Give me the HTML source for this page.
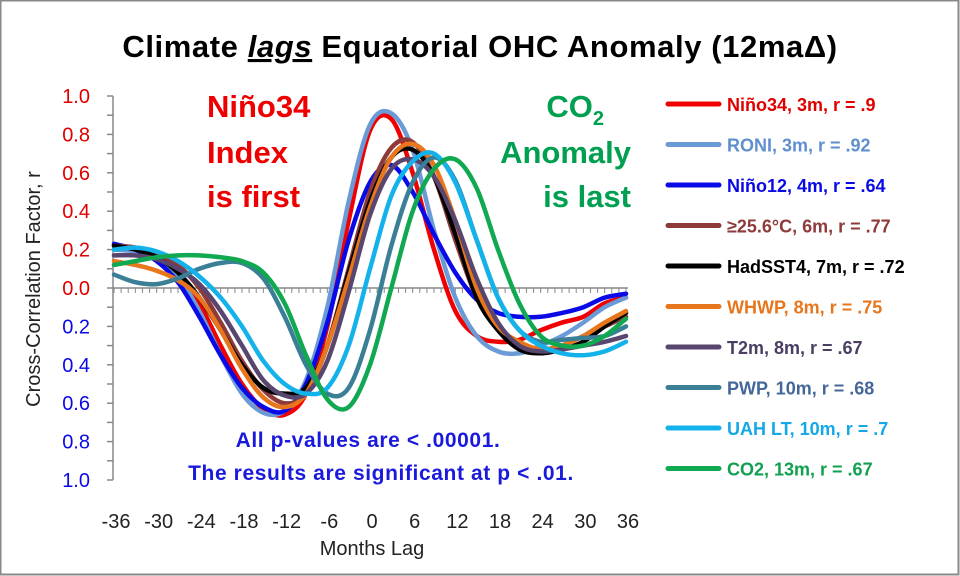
<!DOCTYPE html>
<html><head><meta charset="utf-8"><style>
body{margin:0;background:#fff}
#c{position:relative;width:960px;height:576px;overflow:hidden;font-family:"Liberation Sans",sans-serif}
svg text{font-family:"Liberation Sans",sans-serif}
</style></head><body>
<div id="c">
<svg id="s" width="960" height="576" viewBox="0 0 960 576">
<rect x="0.5" y="0.5" width="958" height="574" fill="#fff" stroke="#888" stroke-width="2"/>
<text x="480" y="57" text-anchor="middle" font-size="31" font-weight="bold" letter-spacing="0.6" fill="#000">Climate <tspan font-style="italic" text-decoration="underline">lags</tspan> Equatorial OHC Anomaly (12maΔ)</text>
<text transform="translate(40,289) rotate(-90)" text-anchor="middle" font-size="20" fill="#222">Cross-Correlation Factor, r</text>
<text x="372" y="555" text-anchor="middle" font-size="20" fill="#222">Months Lag</text>
<g font-size="31" font-weight="bold" fill="#e00">
<text x="207" y="117">Niño34</text><text x="207" y="163">Index</text><text x="207" y="207">is first</text></g>
<g font-size="31" font-weight="bold" fill="#00a050" text-anchor="end">
<text x="604" y="117">CO<tspan font-size="20" dy="8">2</tspan></text><text x="631" y="163">Anomaly</text><text x="631" y="207">is last</text></g>
<g font-size="21" font-weight="bold" fill="#1a1adc" text-anchor="middle" letter-spacing="0.6">
<text x="368" y="447">All p-values are &lt; .00001.</text><text x="381" y="480">The results are significant at p &lt; .01.</text></g>
<g id="axes"></g><g id="plot"></g><g id="legend"></g>
</svg></div>
<script>
const lags=[-36,-33,-30,-27,-24,-21,-18,-15,-12,-9,-6,-3,0,3,6,9,12,15,18,21,24,27,30,33,36];
const xTicks=[-36,-30,-24,-18,-12,-6,0,6,12,18,24,30,36];
const yTicks=[1,0.8,0.6,0.4,0.2,0,-0.2,-0.4,-0.6,-0.8,-1];
const names=["Niño34, 3m, r = .9","RONI, 3m, r = .92","Niño12, 4m, r = .64","≥25.6°C, 6m, r = .77","HadSST4, 7m, r = .72","WHWP, 8m, r = .75","T2m, 8m, r = .67","PWP, 10m, r = .68","UAH LT, 10m, r = .7","CO2, 13m, r = .67"];
const colors=["#f00000","#6a9bd6","#0a0ae6","#8e3a3a","#000000","#e8761c","#58466e","#3a7f96","#14b2ea","#10a850"];
const textColors=["#e00000","#5f8fcf","#0a0ae6","#8e3a3a","#000000","#e8761c","#4a3e62","#44679a","#14a8e6","#10a050"];
const sNino34=[0.22,0.21,0.17,0.08,-0.08,-0.30,-0.50,-0.63,-0.66,-0.55,-0.20,0.35,0.82,0.88,0.60,0.20,-0.12,-0.25,-0.28,-0.27,-0.22,-0.18,-0.15,-0.08,-0.05];
const sRONI=[0.20,0.19,0.15,0.06,-0.12,-0.35,-0.55,-0.65,-0.64,-0.48,-0.10,0.45,0.85,0.91,0.72,0.30,-0.05,-0.25,-0.33,-0.34,-0.30,-0.25,-0.18,-0.10,-0.05];
const sNino12=[0.23,0.20,0.14,0.03,-0.15,-0.35,-0.52,-0.62,-0.64,-0.50,-0.18,0.25,0.55,0.64,0.50,0.28,0.08,-0.06,-0.13,-0.15,-0.15,-0.13,-0.10,-0.05,-0.03];
const sWarm=[0.22,0.21,0.18,0.12,0.00,-0.18,-0.38,-0.53,-0.60,-0.55,-0.30,0.10,0.50,0.73,0.76,0.58,0.25,-0.05,-0.22,-0.30,-0.32,-0.30,-0.25,-0.20,-0.15];
const sHad=[0.22,0.20,0.16,0.08,-0.05,-0.22,-0.40,-0.52,-0.55,-0.52,-0.30,0.08,0.45,0.68,0.72,0.58,0.28,-0.05,-0.22,-0.32,-0.34,-0.32,-0.28,-0.20,-0.13];
const sWHWP=[0.14,0.12,0.09,0.04,-0.05,-0.22,-0.42,-0.57,-0.62,-0.55,-0.30,0.05,0.42,0.68,0.75,0.64,0.35,0.00,-0.20,-0.28,-0.32,-0.30,-0.25,-0.18,-0.12];
const sT2m=[0.17,0.17,0.15,0.10,0.02,-0.12,-0.30,-0.48,-0.56,-0.55,-0.38,-0.02,0.38,0.62,0.67,0.58,0.35,0.05,-0.18,-0.30,-0.33,-0.32,-0.30,-0.28,-0.25];
const sPWP=[0.07,0.03,0.02,0.05,0.10,0.13,0.13,0.05,-0.15,-0.40,-0.55,-0.52,-0.22,0.22,0.55,0.68,0.56,0.25,-0.05,-0.22,-0.28,-0.27,-0.26,-0.25,-0.20];
const sUAH=[0.20,0.21,0.19,0.14,0.06,-0.05,-0.20,-0.38,-0.50,-0.55,-0.52,-0.30,0.10,0.48,0.66,0.70,0.55,0.25,-0.05,-0.22,-0.30,-0.34,-0.35,-0.33,-0.28];
const sCO2=[0.12,0.14,0.16,0.17,0.17,0.16,0.14,0.08,-0.08,-0.35,-0.58,-0.62,-0.40,0.00,0.40,0.62,0.67,0.52,0.20,-0.08,-0.25,-0.30,-0.30,-0.25,-0.16];
const series=[sNino34,sRONI,sNino12,sWarm,sHad,sWHWP,sT2m,sPWP,sUAH,sCO2];

const NS="http://www.w3.org/2000/svg";
const X0=114,X1=626,Y0=288,YS=192;
function xs(v){return X0+(v+36)/72*(X1-X0);}
function ys(v){return Y0-v*YS;}
function mk(tag,attrs,parent){const e=document.createElementNS(NS,tag);for(const k in attrs)e.setAttribute(k,attrs[k]);parent.appendChild(e);return e;}
const axes=document.getElementById('axes'),plot=document.getElementById('plot'),legend=document.getElementById('legend');
let e=mk('line',{x1:113,x2:113,y1:ys(1),y2:ys(-1),stroke:'#888','stroke-width':1.5},axes);


for(let i=0;i<=20;i++){const v=1-i*0.1;
 e=mk('line',{x1:107,x2:113,y1:ys(v),y2:ys(v),stroke:'#888','stroke-width':1.5},axes);
 
 }
yTicks.forEach(v=>{const t=mk('text',{x:90,y:ys(v)+7,'text-anchor':'end','font-size':20,fill:v>=0?'#e00000':'#0a0ae6'},axes);
 t.textContent=Math.abs(v).toFixed(1);
 
 });
e=mk('line',{x1:113,x2:628,y1:Y0,y2:Y0,stroke:'#888','stroke-width':1.5},axes);


for(let m=-36;m<=36;m+=1){
 e=mk('line',{x1:xs(m),x2:xs(m),y1:Y0,y2:Y0+5,stroke:'#888','stroke-width':1},axes);
 
 }
xTicks.forEach(v=>{const t=mk('text',{x:xs(v)+2,y:528,'text-anchor':'middle','font-size':20,fill:'#222'},axes);
 t.textContent=String(v);
 
 });
function smooth(pts){let d='M'+pts[0][0]+','+pts[0][1];
 for(let i=0;i<pts.length-1;i++){const p0=pts[i-1]||pts[i],p1=pts[i],p2=pts[i+1],p3=pts[i+2]||p2;
  d+=' C'+(p1[0]+(p2[0]-p0[0])/6)+','+(p1[1]+(p2[1]-p0[1])/6)+' '+(p2[0]-(p3[0]-p1[0])/6)+','+(p2[1]-(p3[1]-p1[1])/6)+' '+p2[0]+','+p2[1];}
 return d;}
series.forEach((s,i)=>{const pts=s.map((v,j)=>[xs(lags[j]),ys(v)]);
 const p=mk('path',{d:smooth(pts),fill:'none',stroke:colors[i],'stroke-width':4.5,'stroke-linejoin':'round','stroke-linecap':'round'},plot);
 
 });
names.forEach((n,i)=>{const y=104+i*40.5;
 const l=mk('line',{x1:668,x2:719,y1:y,y2:y,stroke:colors[i],'stroke-width':5,'stroke-linecap':'round'},legend);
 
 
 const t=mk('text',{x:727,y:y+7,'font-size':18,'font-weight':'bold',fill:textColors[i]},legend);
 t.textContent=n;
 
 });
</script>
</body></html>
